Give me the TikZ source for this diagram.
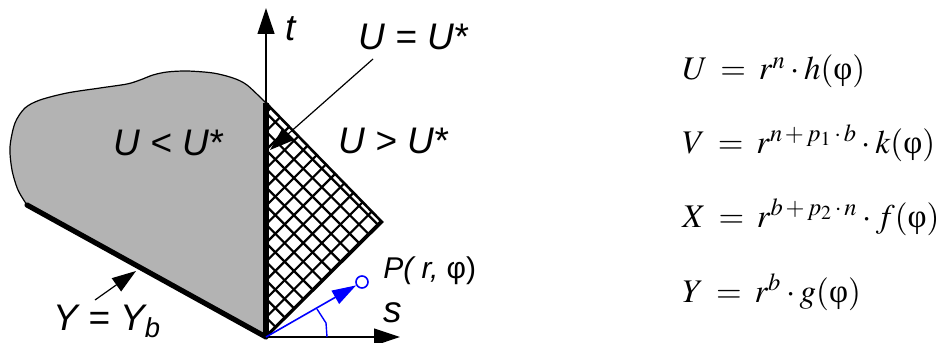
\documentclass[tikz,border=0pt]{standalone}
\usepackage{amsmath}
\usepackage[no-math]{fontspec}
\usepackage{mathptmx}
\usepackage{tikz}
\usetikzlibrary{arrows.meta, positioning, calc}
\newfontfamily\lab{Liberation Sans}
\newfontfamily\grk{Liberation Serif}
\newcommand{\ph}{\mbox{\grk φ}}
\definecolor{blobgray}{RGB}{179,179,179}

\tikzset{
	axis/.style={line width=0.6pt,-{Triangle[length=13pt,width=8.5pt]}},
	lead/.style={line width=0.6pt,-{Triangle[length=12pt,width=8pt]}},
	hatch/.style={line width=1.1pt},
	lbl/.style={font=\lab\itshape\fontsize{18.5}{21}\selectfont,inner sep=0,anchor=base west},
	eqn/.style={font=\fontsize{16.5}{19}\selectfont,inner sep=0,anchor=base west}
}

\begin{document}
\begin{tikzpicture}[x=0.5pt,y=-0.5pt]
				\useasboundingbox (0,0) rectangle (951,342);
				\coordinate (O) at (266,337);
				\coordinate (top) at (266,103);
				\coordinate (base) at (27,205);
				% gray region
				\fill[blobgray] (top) plot[smooth] coordinates {(266,103) (247,85) (233,78) (213,73) (187,71) (167,72) (153,75) (140,80) (127,84) (100,88) (67,93) (40,100) (25,108) (15,123) (10,147) (12,170) (18,190) (27,205)} -- (O) -- cycle;
				\draw[line width=0.6pt] plot[smooth] coordinates {(266,103) (247,85) (233,78) (213,73) (187,71) (167,72) (153,75) (140,80) (127,84) (100,88) (67,93) (40,100) (25,108) (15,123) (10,147) (12,170) (18,190) (27,205)};
				% hatched region
				\coordinate (hr) at (382,222);
				\begin{scope}
					\clip (top) -- (hr) -- (O) -- cycle;
					\foreach \i in {-3,...,10} {
						\draw[hatch] (266,150+18.6*\i) -- ++(150,150);
						\draw[hatch] (266,150+18.6*\i) -- ++(150,-150);
					}
				\end{scope}
				\draw[line width=1.3pt,line join=miter] (top) -- (hr) -- (O);
				% axes
				\coordinate (ttip) at (266,8);
				\coordinate (stip) at (400,337);
				\draw[axis] (O) -- (ttip);
				\draw[axis] (O) -- (stip);
				\draw[line width=3.3pt] (top) -- (O);
				\draw[line width=2.6pt,line cap=round] (base) -- (O);
				% leaders
				\coordinate (uqs) at (373,59);
				\coordinate (uqt) at (270,150);
				\draw[lead] (uqs) -- (uqt);
				\coordinate (ybs) at (95,300);
				\coordinate (ybt) at (136,271);
				\draw[lead] (ybs) -- (ybt);
				% point P
				\node[circle,draw=blue,line width=0.8pt,inner sep=0,minimum size=6pt] (P) at (362,282) {};
				\draw[blue,line width=0.8pt,-{Triangle[length=12pt,width=7.5pt]}] (O) -- (P);
				\draw[blue,line width=0.7pt] (327,337) -- (326,323) -- (317,309);
				% labels
				\node[lbl] (tl) at (285,41) {t};
				\node[lbl] (sl) at (383,322) {s};
				\node[lbl] (eq) at (358,50) {U = U*};
				\node[lbl] (lt) at (113,155) {U < U*};
				\node[lbl] (gt) at (338,153) {U > U*};
				\node[lbl] (yb) at (53,330) {Y = Y\textsubscript{b}};
				\node[lbl,font=\lab\itshape\fontsize{15}{17}\selectfont] (pl) at (383,278) {P( r, \upshape φ)};
				% equations
				\node[eqn] (equ) at (682,80) {$U \mkern3mu=\mkern3mu r^{n}\cdot h(\ph)$};
				\node[eqn] (eqv) at (682,153) {$V \mkern3mu=\mkern3mu r^{n\,+\,p_1\,\cdot\,b}\cdot k(\ph)$};
				\node[eqn] (eqx) at (682,227) {$X \mkern3mu=\mkern3mu r^{b\,+\,p_2\,\cdot\,n}\cdot f(\ph)$};
				\node[eqn] (eqy) at (682,302) {$Y \mkern3mu=\mkern3mu r^{b}\cdot g(\ph)$};
			\end{tikzpicture}
\end{document}
